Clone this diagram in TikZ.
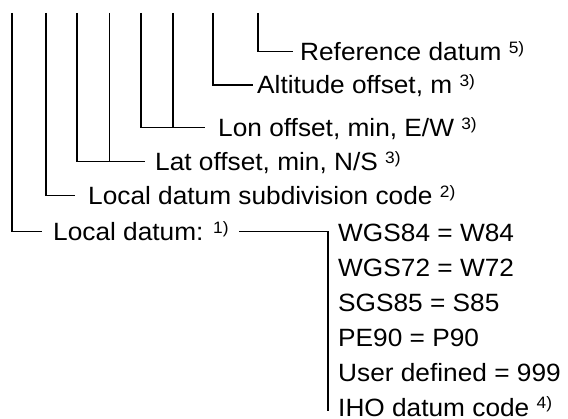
\documentclass[tikz,border=0pt]{standalone}
\usepackage{fontspec}
\setmainfont{Liberation Sans}[FakeStretch=1.05]
\newcommand\supx[1]{\raisebox{7.5pt}{\fontsize{16.5}{16.5}\selectfont #1}}
\begin{document}
\begin{tikzpicture}[x=1pt,y=-1pt,
  conn/.style={line width=1.6pt,line cap=butt,line join=miter},
  lbl/.style={anchor=base west,inner sep=0pt,font=\fontsize{25}{30}\selectfont}]
\useasboundingbox (0,0) rectangle (568,419);
% labels
\node[lbl] (ref) at (300,60.6) {Reference datum \supx{5)}};
\node[lbl] (alt) at (257,93.9) {Altitude offset, m \supx{3)}};
\node[lbl] (lon) at (218,136.6) {Lon offset, min, E/W \supx{3)}};
\node[lbl] (lat) at (155,170.6) {Lat offset, min, N/S \supx{3)}};
\node[lbl] (sub) at (88,204.6) {Local datum subdivision code \supx{2)}};
\node[lbl] (loc) at (53,240.6) {Local datum: \supx{1)}};
\node[lbl] (l1) at (338,241.2) {WGS84 = W84};
\node[lbl] (l2) at (338,276.4) {WGS72 = W72};
\node[lbl] (l3) at (338,311.6) {SGS85 = S85};
\node[lbl] (l4) at (338,346.8) {PE90 = P90};
\node[lbl] (l5) at (338,382.0) {User defined = 999};
\node[lbl] (l6) at (338,416.2) {IHO datum code \supx{4)}};
% tops of the verticals
\coordinate (t1) at (12,13);
\coordinate (t2) at (45.7,13);
\coordinate (t3) at (76.7,13);
\coordinate (t4) at (109.3,13);
\coordinate (t5) at (140.7,13);
\coordinate (t6) at (172.7,13);
\coordinate (t7) at (212.7,13);
\coordinate (t8) at (257.7,13);
% ends of the horizontals
\coordinate (e8) at (293,51.7);
\coordinate (e7) at (253,85);
\coordinate (e5) at (205,127.7);
\coordinate (e3) at (145,161.7);
\coordinate (e2) at (75,195.7);
\coordinate (e1) at (42,231.7);
\coordinate (s1) at (239,231.7);
\coordinate (c1) at (328,231.7);
\coordinate (c2) at (328,411);
% connectors
\draw[conn] (t8) |- (e8);
\draw[conn] (t7) |- (e7);
\draw[conn] (t5) |- (e5);
\draw[conn] (t6) -- (t6 |- e5);
\draw[conn] (t3) |- (e3);
\draw[conn] (t4) -- (t4 |- e3);
\draw[conn] (t2) |- (e2);
\draw[conn] (t1) |- (e1);
\draw[conn] (s1) -- (c1) -- (c2);
\end{tikzpicture}
\end{document}
